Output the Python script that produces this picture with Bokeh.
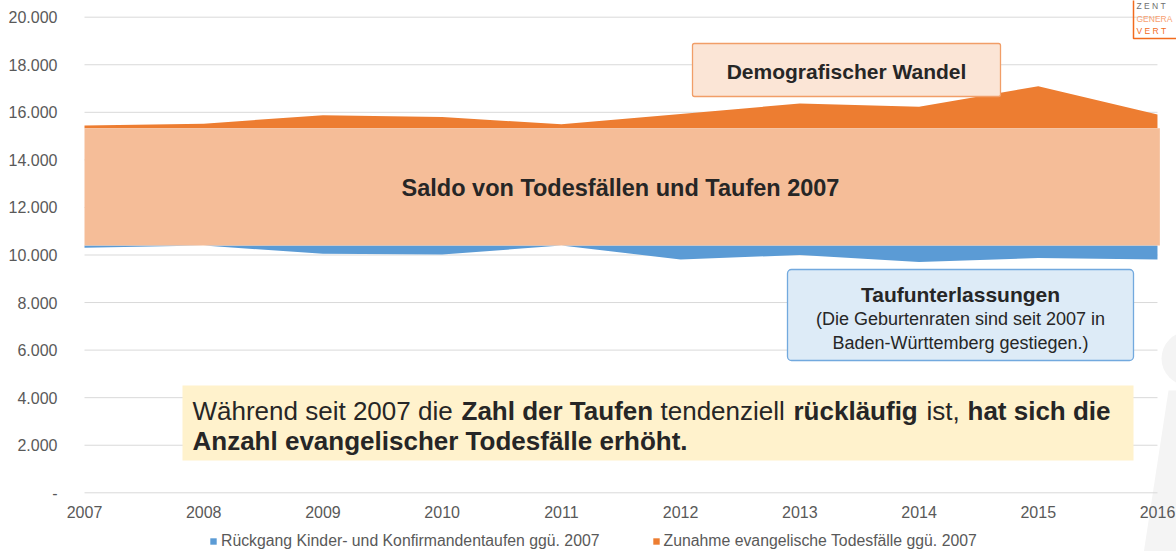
from bokeh.plotting import figure
from bokeh.models import (Range1d, FixedTicker, Legend, LegendItem, Label,
                          BoxAnnotation)
from bokeh.core.properties import value
from bokeh.embed import file_html
from bokeh.resources import INLINE

# ---------------- data ----------------
jahre = [2007, 2008, 2009, 2010, 2011, 2012, 2013, 2014, 2015, 2016]
jahr_labels = ["2007", "2008", "2009", "2010", "2011", "2012", "2013", "2014", "2015", "2016"]
taufen = [10300, 10400, 10050, 10020, 10400, 9810, 10000, 9710, 9870, 9810]
todesfaelle = [15450, 15520, 15880, 15800, 15500, 15930, 16370, 16230, 17100, 15910]
saldo_2007_unten = 10400
saldo_2007_oben = 15330
y_ticks = [0, 2000, 4000, 6000, 8000, 10000, 12000, 14000, 16000, 18000, 20000]
y_tick_labels = ["-", "2.000", "4.000", "6.000", "8.000", "10.000", "12.000",
                 "14.000", "16.000", "18.000", "20.000"]
serien = ["Rückgang Kinder- und Konfirmandentaufen ggü. 2007",
          "Zunahme evangelische Todesfälle ggü. 2007"]

FONT = "Liberation Sans"
BLUE = "#5B9BD5"
ORANGE = "#ED7D31"
PEACH = "#F5BD98"
GRID = "#D9D9D9"
AXIS_TXT = "#595959"
DARK = "#262626"

# pixel helpers (page px -> data) used only for annotation placement
X0_PX, X_PER_YEAR = 84.0, 119.22
Y0_PX, PX_PER_UNIT = 492.3, 23.78 / 1000.0
W, H = 1176, 551
FRAME_LEFT = 62


def px2x(px):
    return 2007 + (px - X0_PX) / X_PER_YEAR


def py2y(py):
    return (Y0_PX - py) / PX_PER_UNIT


p = figure(width=W, height=H, output_backend="svg", toolbar_location=None,
           x_range=Range1d(px2x(FRAME_LEFT), px2x(W)), y_range=Range1d(py2y(H), py2y(0)),
           x_axis_location=None,
           min_border_left=FRAME_LEFT, min_border_right=0, min_border_top=0,
           min_border_bottom=0)
p.outline_line_color = None
p.xgrid.visible = False
p.ygrid.visible = False
p.background_fill_color = "white"

# y axis
p.yaxis.ticker = FixedTicker(ticks=y_ticks)
p.yaxis.major_label_overrides = {t: l for t, l in zip(y_ticks, y_tick_labels)}
ax = p.yaxis[0]
ax.axis_line_color = None
ax.major_tick_line_color = None
ax.minor_tick_line_color = None
ax.major_tick_out = 0
ax.major_tick_in = 0
ax.major_label_text_font = FONT
ax.major_label_text_font_size = "16px"
ax.major_label_text_color = AXIS_TXT
ax.major_label_standoff = 5

# background silhouette (decorative)
p.scatter(x=[px2x(1188)], y=[py2y(358)], size=54, marker="circle",
          fill_color="#F4F4F4", line_color=None)
p.patch(x=[px2x(1168), px2x(1190), px2x(1190), px2x(1142)],
        y=[py2y(390), py2y(390), py2y(560), py2y(560)],
        fill_color="#F4F4F4", line_color=None)

# grid lines
p.segment(x0=[jahre[0]] * len(y_ticks), x1=[jahre[-1]] * len(y_ticks),
          y0=y_ticks, y1=y_ticks, line_color=GRID, line_width=1)

# x tick labels (years)
p.text(x=jahre, y=[py2y(511)] * len(jahre), text=jahr_labels,
       text_font=value(FONT), text_font_size=value("16px"), text_color=AXIS_TXT,
       text_align="center", text_baseline="middle")

# areas
n = len(jahre)
r_blue = p.varea(x=jahre, y1=taufen, y2=[saldo_2007_unten] * n, fill_color=BLUE)
r_orange = p.varea(x=jahre, y1=[saldo_2007_oben] * n, y2=todesfaelle, fill_color=ORANGE)
p.quad(left=jahre[0], right=jahre[-1] + 0.02, bottom=saldo_2007_unten,
       top=saldo_2007_oben, fill_color=PEACH, line_color=None)

# legend
legend = Legend(items=[LegendItem(label=serien[0], renderers=[r_blue]),
                       LegendItem(label=serien[1], renderers=[r_orange])],
                orientation="horizontal", location=(211 - FRAME_LEFT - 2, 1),
                glyph_width=8, glyph_height=8, label_standoff=4, spacing=52,
                padding=0, margin=0, border_line_color=None,
                background_fill_alpha=0, label_text_font=FONT,
                label_text_font_size="15.8px", label_text_color=AXIS_TXT,
                label_height=16)
p.add_layout(legend, "center")

# annotation boxes
p.add_layout(BoxAnnotation(left=px2x(692), right=px2x(1000), top=py2y(43), bottom=py2y(96),
                           fill_color="#FBE5D6", fill_alpha=1, line_color="#F19E68",
                           line_alpha=1, line_width=1.3, border_radius=2))
p.add_layout(Label(x=px2x(846), y=py2y(71), text="Demografischer Wandel",
                   text_align="center", text_baseline="middle", text_font=FONT,
                   text_font_style="bold", text_font_size="21px", text_color=DARK))

p.add_layout(Label(x=px2x(620), y=py2y(187), text="Saldo von Todesfällen und Taufen 2007",
                   text_align="center", text_baseline="middle", text_font=FONT,
                   text_font_style="bold", text_font_size="23.5px", text_color=DARK))

p.add_layout(BoxAnnotation(left=px2x(787), right=px2x(1133), top=py2y(269), bottom=py2y(360),
                           fill_color="#DDEBF7", fill_alpha=1, line_color="#72A9DE",
                           line_alpha=1, line_width=1.3, border_radius=4))
p.add_layout(Label(x=px2x(960), y=py2y(294), text="Taufunterlassungen",
                   text_align="center", text_baseline="middle", text_font=FONT,
                   text_font_style="bold", text_font_size="21px", text_color=DARK))
p.add_layout(Label(x=px2x(960), y=py2y(318), text="(Die Geburtenraten sind seit 2007 in",
                   text_align="center", text_baseline="middle", text_font=FONT,
                   text_font_size="18px", text_color=DARK))
p.add_layout(Label(x=px2x(960), y=py2y(342), text="Baden-Württemberg gestiegen.)",
                   text_align="center", text_baseline="middle", text_font=FONT,
                   text_font_size="18px", text_color=DARK))

p.add_layout(BoxAnnotation(left=px2x(182), right=px2x(1133), top=py2y(385), bottom=py2y(460),
                           fill_color="#FFF2CC", fill_alpha=1, line_alpha=0))
segs = [("Während seit 2007 die", "normal", 192),
        ("Zahl der Taufen", "bold", 461),
        ("tendenziell", "normal", 660),
        ("rückläufig", "bold", 793),
        ("ist,", "normal", 926),
        ("hat sich die", "bold", 967)]
for txt, style, xpx in segs:
    p.add_layout(Label(x=px2x(xpx), y=py2y(410), text=txt, text_align="left",
                       text_baseline="middle", text_font=FONT, text_font_style=style,
                       text_font_size="26px", text_color=DARK))
p.add_layout(Label(x=px2x(192), y=py2y(440), text="Anzahl evangelischer Todesfälle erhöht.",
                   text_align="left", text_baseline="middle", text_font=FONT,
                   text_font_style="bold", text_font_size="26px", text_color=DARK))

# logo top right (decorative)
p.add_layout(BoxAnnotation(left=px2x(1133), right=px2x(1190), top=py2y(-2), bottom=py2y(38),
                           fill_alpha=0, line_color="#F26B1D", line_alpha=1, line_width=1.5))
for txt, col, ypx in [("Z E N T", "#6F6F6F", 5), ("GENERA", "#F8A070", 18), ("V E R T", "#F26B1D", 30)]:
    p.add_layout(Label(x=px2x(1136), y=py2y(ypx), text=txt, text_align="left",
                       text_baseline="middle", text_font=FONT, text_font_size="8.5px",
                       text_color=col))

open("out.html", "w").write(file_html(p, INLINE))
